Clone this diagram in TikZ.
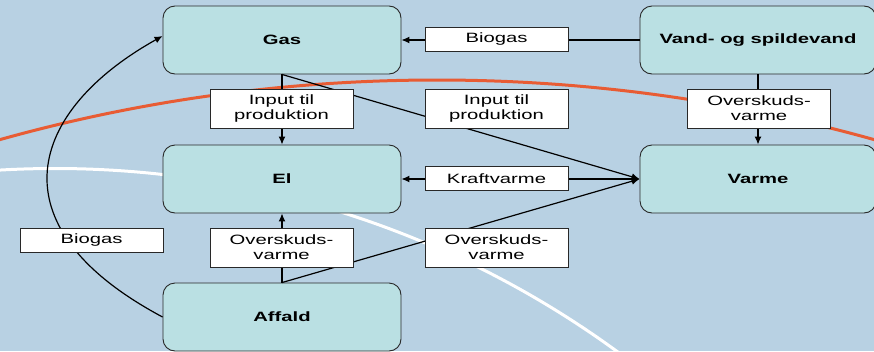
\documentclass[tikz,border=0pt]{standalone}
\usepackage{fontspec}
\newfontfamily\lab[FakeStretch=1.5]{Liberation Sans}
\usetikzlibrary{arrows.meta}
\definecolor{bgblue}{RGB}{184,209,227}
\definecolor{boxfill}{RGB}{186,224,227}
\definecolor{arcred}{RGB}{232,92,52}
\definecolor{edge}{RGB}{40,40,40}
\tikzset{
  bigbox/.style={draw=edge, line width=0.9pt, fill=boxfill, rounded corners=12pt,
    minimum height=68pt, font=\lab\bfseries\fontsize{13.5}{15}\selectfont, inner sep=0pt},
  labbox/.style={draw=edge, line width=0.8pt, fill=white, minimum width=143pt,
    font=\lab\fontsize{13.5}{15}\selectfont, align=center, inner sep=0pt},
  onebox/.style={labbox, minimum height=24pt},
  twobox/.style={labbox, minimum height=39pt},
  conn/.style={line width=1.2pt, black},
  arr/.style={conn, -{Latex[length=8pt,width=7pt]}},
}
\begin{document}
\begin{tikzpicture}[x=1pt,y=-1pt]
\fill[bgblue] (0,0) rectangle (874,351);
\useasboundingbox (0,0) rectangle (874,351);
\begin{scope}
\clip (0,0) rectangle (874,351);
\draw[arcred, line width=3pt] (437,1701) circle (1621);
\draw[white, line width=3pt] (55,1123) circle (954.5);
\end{scope}
% main boxes
\node[bigbox, minimum width=238pt] (gas) at (282,40) {Gas};
\node[bigbox, minimum width=236pt] (vand) at (758,40) {Vand- og spildevand};
\node[bigbox, minimum width=238pt] (el) at (282,179) {El};
\node[bigbox, minimum width=236pt] (varme) at (758,179) {Varme};
\node[bigbox, minimum width=238pt] (affald) at (282,317) {Affald};
% connectors
\draw[arr] (vand.west) -- (gas.east);
\draw[arr] (gas.south) -- (el.north);
\draw[arr] (gas.south) -- (varme.west);
\draw[arr] (vand.south) -- (varme.north);
\draw[arr] (affald.north) -- (el.south);
\draw[arr] (affald.north) -- (varme.west);
\draw[conn, {Latex[length=8pt,width=7pt]}-{Latex[length=8pt,width=7pt]}] (el.east) -- (varme.west);
\draw[arr] (affald.west) .. controls (-10,225) and (30,110) .. ([yshift=4pt]gas.west);
% labels
\node[onebox] (bio1) at (496.5,39) {Biogas};
\node[twobox] (in1) at (281.5,108.5) {Input til\\produktion};
\node[twobox] (in2) at (496.5,108.5) {Input til\\produktion};
\node[twobox] (ov1) at (759,108.5) {Overskuds-\\varme};
\node[onebox] (kraft) at (496.5,178.5) {Kraftvarme};
\node[onebox] (bio2) at (91.5,240) {Biogas};
\node[twobox] (ov2) at (281.5,247.5) {Overskuds-\\varme};
\node[twobox] (ov3) at (496.5,247.5) {Overskuds-\\varme};
\end{tikzpicture}
\end{document}
